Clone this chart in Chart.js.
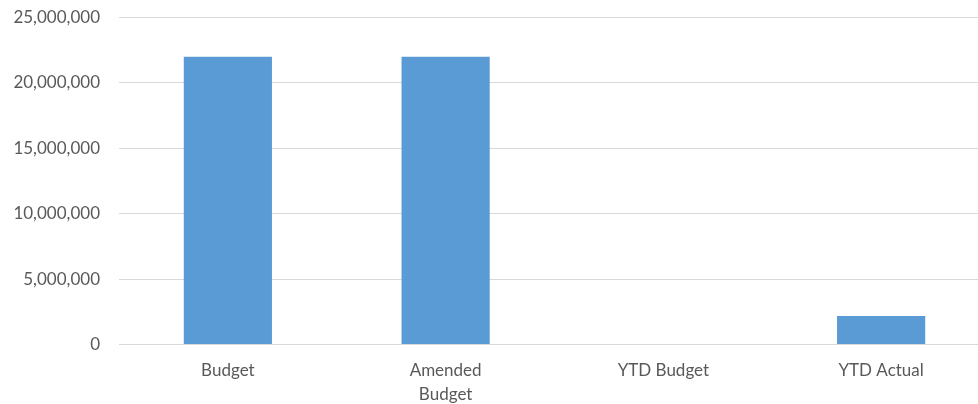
<!DOCTYPE html>
<html>
<head>
<meta charset="utf-8">
<script src="https://cdn.jsdelivr.net/npm/chart.js@4"></script>
<style>
  html, body { margin: 0; padding: 0; background: #fff; overflow: hidden; }
  #wrap { width: 978px; height: 404px; overflow: hidden; }
  #wrap div { width: 990px; height: 404px; }
</style>
</head>
<body>
<div id="wrap"><div><canvas id="chart"></canvas></div></div>
<script>
  // values
  const categories = ['Budget', ['Amended', 'Budget'], 'YTD Budget', 'YTD Actual'];
  const amounts = [22000000, 22000000, 0, 2180000];
  const yTicks = [0, 5000000, 10000000, 15000000, 20000000, 25000000];

  Chart.defaults.font.family = 'Lato, "Open Sans", sans-serif';
  Chart.defaults.font.size = 17;
  Chart.defaults.color = '#595959';

  new Chart(document.getElementById('chart'), {
    type: 'bar',
    data: {
      labels: categories,
      datasets: [{
        data: amounts,
        backgroundColor: '#5b9bd5',
        borderWidth: 0,
        barPercentage: 0.405,
        categoryPercentage: 1
      }]
    },
    options: {
      responsive: true,
      maintainAspectRatio: false,
      animation: false,
      layout: { padding: { top: 17.5, right: 0, left: 0, bottom: 0 } },
      plugins: { legend: { display: false }, tooltip: { enabled: false } },
      scales: {
        x: {
          grid: { display: false },
          border: { display: false },
          ticks: { padding: 6, maxRotation: 0, autoSkip: false, font: { lineHeight: 1.4 } },
          afterFit: (scale) => { scale.height = 59.5; }
        },
        y: {
          min: 0,
          max: 25000000,
          afterBuildTicks: (scale) => { scale.ticks = yTicks.map(v => ({ value: v })); },
          grid: { color: '#d9d9d9', lineWidth: 1, drawTicks: false },
          border: { display: false },
          ticks: {
            padding: 19,
            callback: (v) => v.toLocaleString('en-US')
          },
          afterFit: (scale) => {
            scale.width = 119;
            scale.paddingTop = 0;
            scale.paddingBottom = 0;
          }
        }
      }
    }
  });
</script>
</body>
</html>
